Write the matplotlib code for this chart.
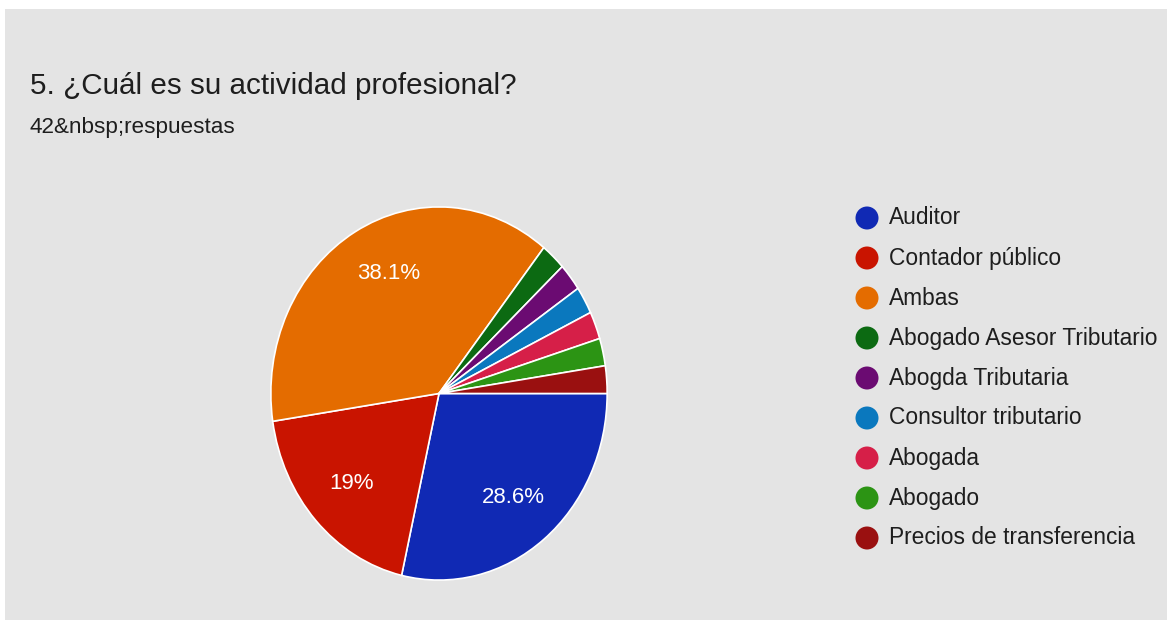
import matplotlib
matplotlib.use("Agg")
import matplotlib.pyplot as plt
from matplotlib.patches import Rectangle, Ellipse
import numpy as np

plt.rcParams['font.family'] = ['Liberation Sans', 'DejaVu Sans']

title = "5. ¿Cuál es su actividad profesional?"
subtitle = "42&nbsp;respuestas"
categories = ["Auditor", "Contador público", "Ambas", "Abogado Asesor Tributario",
              "Abogda Tributaria", "Consultor tributario", "Abogada", "Abogado",
              "Precios de transferencia"]
counts = [12, 8, 16, 1, 1, 1, 1, 1, 1]
colors = ["#1029b4", "#c91400", "#e46c00", "#0c6a12", "#6b0b72",
          "#0a78be", "#d61f48", "#2c9414", "#9a1010"]

W, H = 1167, 620
fig = plt.figure(figsize=(W / 100, H / 100), dpi=100)
fig.patch.set_facecolor("white")
fig.add_artist(Rectangle((5 / W, 0), 1 - 5 / W, 1 - 9 / H, transform=fig.transFigure,
                         facecolor="#e4e4e4", edgecolor="none", zorder=0))

fig.text(30 / W, 1 - 86 / H, title, fontsize=21.3, color="#1e1e1e", va="center", ha="left")
fig.text(30 / W, 1 - 128 / H, subtitle, fontsize=16.2, color="#1e1e1e", va="center", ha="left")

# pie (slightly elliptical as in the reference)
px0, py0, pw, ph = 270, 206, 338, 375
ax = fig.add_axes([px0 / W, 1 - (py0 + ph) / H, pw / W, ph / H])
total = sum(counts)
wedges, _ = ax.pie(counts, colors=colors, startangle=0, counterclock=False,
                   radius=1, wedgeprops=dict(edgecolor="white", linewidth=1.2))
ax.set_aspect("auto")
ax.set_xlim(-1.005, 1.005)
ax.set_ylim(-1.005, 1.005)
ax.axis("off")

start = 0.0
for v, c in zip(counts, colors):
    frac = v / total
    pct = 100 * frac
    if pct > 5:
        mid = np.deg2rad(start - 360 * frac / 2)
        if pct > 30:
            mid -= np.deg2rad(5)
        lab = f"{pct:.1f}".rstrip("0").rstrip(".") + "%"
        ax.text(0.71 * np.cos(mid), 0.71 * np.sin(mid), lab, color="white",
                fontsize=16, ha="center", va="center")
    start -= 360 * frac

# legend
for i, (name, c) in enumerate(zip(categories, colors)):
    y = 1 - (218 + 40 * i) / H
    fig.add_artist(Ellipse((867 / W, y), 23 / W, 23 / H,
                   transform=fig.transFigure, facecolor=c, edgecolor="none"))
    fig.text(889 / W, y, name, fontsize=16.4, color="#1e1e1e", va="center", ha="left")

fig.savefig("out.png", dpi=100)
